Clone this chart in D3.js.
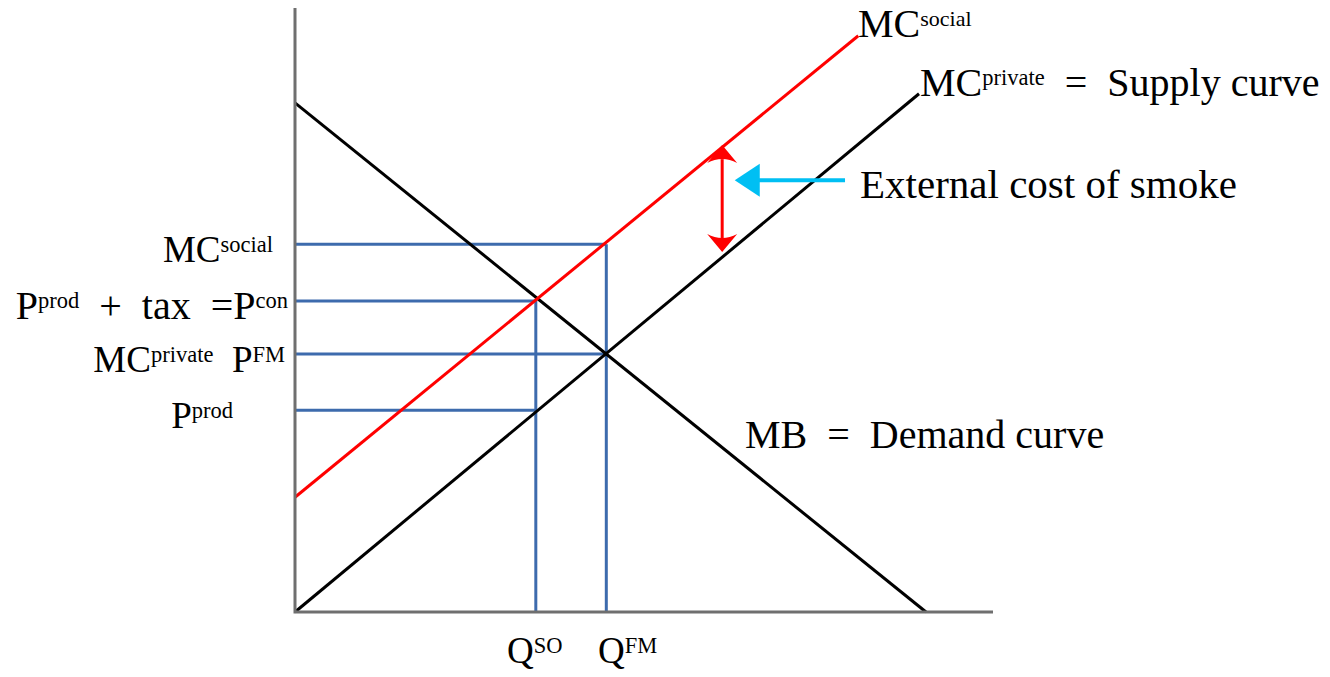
<!DOCTYPE html>
<html>
<head>
<meta charset="utf-8">
<style>
  body { margin: 0; background: #fff; }
  svg text { font-family: "Liberation Serif", "Times New Roman", serif; fill: #000; white-space: pre; }
</style>
</head>
<body>
<svg id="chart"></svg>
<script src="https://cdnjs.cloudflare.com/ajax/libs/d3/7.8.5/d3.min.js"></script>
<script>
// quantity / price units, 0..100 on both axes
var demand   = [[0, 84.3], [90.4, 0]];
var supply   = [[0, 0], [89.4, 85.8]];
var mcSocial = [[0, 19.0], [80.7, 95.4]];

var qSO = 34.5, qFM = 44.6;
var pSocial = 60.9, pCon = 51.5, pFM = 42.7, pProd = 33.4;

// guide lines: [q from, p from, q to, p to]
var guides = [
    [0, pSocial, qFM, pSocial],
    [0, pCon, qSO, pCon],
    [0, pFM, qFM, pFM],
    [0, pProd, qSO, pProd],
    [qSO, 0, qSO, pCon],
    [qFM, 0, qFM, pSocial]
];

// external cost arrow (q, p top, p bottom) and pointer (q start, q end, p)
var extArrow = [61.2, 77.3, 59.6];
var pointer = [78.8, 63.0, 71.5];

// text pieces: [text, superscript?]
var lblMcSocialTop = [["MC", 0], ["social", 1]];
var lblSupply = [["MC", 0], ["private", 1], ["  =  Supply curve", 0]];
var lblDemand = [["MB  =  Demand curve", 0]];
var lblExt = [["External cost of smoke", 0]];
var leftLabels = [
    [["MC", 0], ["social", 1]],
    [["P", 0], ["prod", 1], ["  +  tax  =", 0], ["P", 0], ["con", 1]],
    [["MC", 0], ["private", 1], ["  P", 0], ["FM", 1]],
    [["P", 0], ["prod", 1]]
];
var leftPrices = [pSocial, pCon, pFM, pProd];
var qLabels = [
    [["Q", 0], ["SO", 1]],
    [["Q", 0], ["FM", 1]]
];

var width = 1330, height = 677;
var svg = d3.select("#chart").attr("width", width).attr("height", height);

var x = d3.scaleLinear().domain([0, 100]).range([295, 993]);
var y = d3.scaleLinear().domain([0, 100]).range([612, 8]);

var line = d3.line().x(d => x(d[0])).y(d => y(d[1]));

// guide lines (blue)
svg.selectAll(".guide")
    .data(guides)
    .enter()
    .append("line")
    .attr("x1", d => x(d[0])).attr("y1", d => y(d[1]))
    .attr("x2", d => x(d[2])).attr("y2", d => y(d[3]))
    .attr("stroke", "#3d6bad")
    .attr("stroke-width", 3);

// curves
svg.append("path").attr("d", line(demand)).attr("stroke", "#000").attr("stroke-width", 3).attr("fill", "none");
svg.append("path").attr("d", line(supply)).attr("stroke", "#000").attr("stroke-width", 3).attr("fill", "none");
svg.append("path").attr("d", line(mcSocial)).attr("stroke", "#ff0000").attr("stroke-width", 3).attr("fill", "none");

// axes
svg.append("path")
    .attr("d", line([[0, 100], [0, 0], [100, 0]]))
    .attr("stroke", "#6f6f6f")
    .attr("stroke-width", 3)
    .attr("fill", "none");

// double red arrow
var ax = x(extArrow[0]), aTop = y(extArrow[1]), aBot = y(extArrow[2]);
svg.append("line")
    .attr("x1", ax).attr("y1", aTop + 14)
    .attr("x2", ax).attr("y2", aBot - 14)
    .attr("stroke", "#ff0000").attr("stroke-width", 3);
var head = "M0,0 L15,18 Q0,10 -15,18 Z";
svg.append("path").attr("d", head).attr("fill", "#ff0000")
    .attr("transform", "translate(" + ax + "," + aTop + ")");
svg.append("path").attr("d", head).attr("fill", "#ff0000")
    .attr("transform", "translate(" + ax + "," + aBot + ") rotate(180)");

// cyan pointer
var px0 = x(pointer[0]), px1 = x(pointer[1]), py = y(pointer[2]);
svg.append("line")
    .attr("x1", px0).attr("y1", py)
    .attr("x2", px1 + 24).attr("y2", py)
    .attr("stroke", "#00bff3").attr("stroke-width", 4);
svg.append("path")
    .attr("d", "M0,0 L25,-16.5 L25,16.5 Z")
    .attr("fill", "#00bff3")
    .attr("transform", "translate(" + px1 + "," + py + ")");

// text helper
function label(parts, tx, ty, size, supSize, anchor) {
    var t = svg.append("text")
        .attr("x", tx).attr("y", ty)
        .attr("font-size", size)
        .attr("text-anchor", anchor || "start");
    var shift = 0;
    parts.forEach(function (p) {
        var target = p[1] ? -Math.round(size * 0.27) : 0;
        t.append("tspan")
            .attr("dy", target - shift)
            .attr("font-size", p[1] ? supSize : size)
            .text(p[0]);
        shift = target;
    });
    return t;
}

label(lblMcSocialTop, 858, 37, 40, 22);
label(lblSupply, 920, 96, 40, 22.5);
label(lblExt, 860, 198, 41, 22);
label(lblDemand, 745, 448, 40, 22);

var leftRight = [273, 288, 285, 233];
leftLabels.forEach(function (parts, i) {
    label(parts, leftRight[i], y(leftPrices[i]) + 18, i === 1 ? 40 : 37, 22.5, "end");
});

var qStart = [507, 598];
qLabels.forEach(function (parts, i) {
    label(parts, qStart[i], 663, 37, 22.5);
});
</script>
</body>
</html>
